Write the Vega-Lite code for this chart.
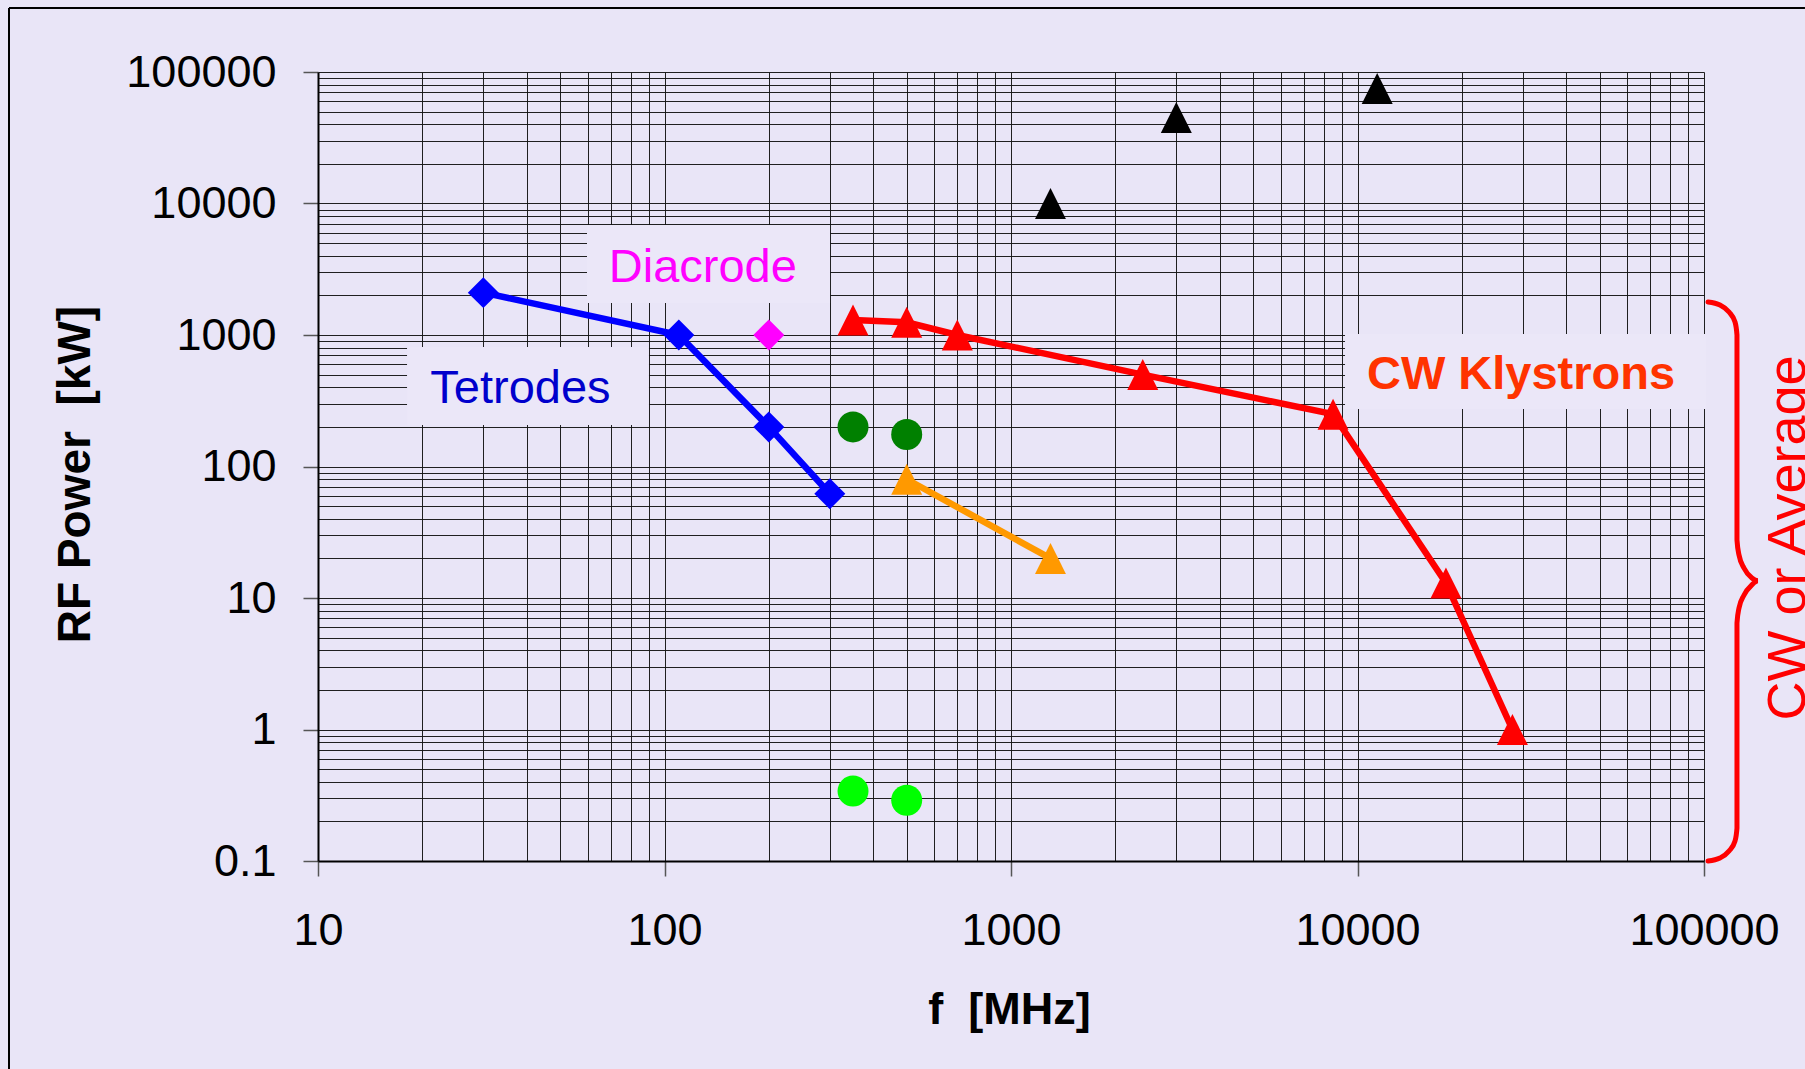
{
  "$schema": "https://vega.github.io/schema/vega-lite/v6.json",
  "width": 1386,
  "height": 789,
  "autosize": {"type": "none"},
  "padding": {"left": 318, "top": 72, "right": 101, "bottom": 208},
  "background": "#E9E5F7",
  "config": {
    "view": {"stroke": null},
    "axis": {
      "grid": true,
      "gridColor": "#141414",
      "gridWidth": 1,
      "gridOpacity": 0.95,
      "tickSize": 15,
      "tickColor": "#555555",
      "tickWidth": 1.5,
      "domainColor": "#000000",
      "domainWidth": 2,
      "labelFont": "Liberation Sans",
      "labelFontSize": 45,
      "labelColor": "#000000",
      "labelOverlap": false,
      "labelFlush": false,
      "titleFont": "Liberation Sans",
      "titleFontWeight": "bold",
      "titleColor": "#000000"
    }
  },
  "datasets": {
    "points": [
      {"series": "Tetrodes", "f": 30, "p": 2100},
      {"series": "Tetrodes", "f": 110, "p": 1000},
      {"series": "Tetrodes", "f": 200, "p": 200},
      {"series": "Tetrodes", "f": 300, "p": 62},
      {"series": "Diacrode", "f": 200, "p": 1000},
      {"series": "CW Klystrons", "f": 350, "p": 1300},
      {"series": "CW Klystrons", "f": 500, "p": 1250},
      {"series": "CW Klystrons", "f": 700, "p": 1000},
      {"series": "CW Klystrons", "f": 2400, "p": 500},
      {"series": "CW Klystrons", "f": 8500, "p": 250},
      {"series": "CW Klystrons", "f": 18000, "p": 13},
      {"series": "CW Klystrons", "f": 28000, "p": 1},
      {"series": "Black", "f": 1300, "p": 10000},
      {"series": "Black", "f": 3000, "p": 45000},
      {"series": "Black", "f": 11400, "p": 75000},
      {"series": "Orange", "f": 500, "p": 80},
      {"series": "Orange", "f": 1300, "p": 20},
      {"series": "Dark green", "f": 350, "p": 200},
      {"series": "Dark green", "f": 500, "p": 175},
      {"series": "Light green", "f": 350, "p": 0.34},
      {"series": "Light green", "f": 500, "p": 0.29}
    ],
    "labels": [
      {"label": "Tetrodes", "f": 38.4, "p": 305},
      {"label": "Diacrode", "f": 129, "p": 2530},
      {"label": "CW Klystrons", "f": 29640, "p": 388},
      {"label": "CW or Average", "f": 195600, "p": 28.6}
    ],
    "boxes": [
      {"label": "Tetrodes", "f": 18.07, "f2": 90.2, "p": 810, "p2": 207},
      {"label": "Diacrode", "f": 59.75, "f2": 300.4, "p": 6862, "p2": 1751},
      {"label": "CW Klystrons", "f": 9204, "f2": 101300, "p": 1018, "p2": 274}
    ],
    "brace": [
      {"o": 1, "f": 102700, "p": 1782},
      {"o": 2, "f": 111200, "p": 1691},
      {"o": 3, "f": 118100, "p": 1496},
      {"o": 4, "f": 122900, "p": 1256},
      {"o": 5, "f": 124500, "p": 1000},
      {"o": 6, "f": 124500, "p": 27.6},
      {"o": 7, "f": 126200, "p": 21.2},
      {"o": 8, "f": 130400, "p": 16.9},
      {"o": 9, "f": 137500, "p": 14.2},
      {"o": 10, "f": 143200, "p": 13.5},
      {"o": 11, "f": 137500, "p": 12.6},
      {"o": 12, "f": 130400, "p": 10.5},
      {"o": 13, "f": 126200, "p": 8.4},
      {"o": 14, "f": 124500, "p": 6.45},
      {"o": 15, "f": 124500, "p": 0.178},
      {"o": 16, "f": 122900, "p": 0.142},
      {"o": 17, "f": 118100, "p": 0.119},
      {"o": 18, "f": 111200, "p": 0.1054},
      {"o": 19, "f": 102700, "p": 0.1}
    ],
    "frame": [
      {"side": "top", "f": 1.283, "f2": 195600, "p": 306700},
      {"side": "left", "f": 1.283, "p": 306700, "p2": 0.00262}
    ]
  },
  "encoding": {
    "x": {
      "field": "f",
      "type": "quantitative",
      "scale": {"type": "log", "domain": [10, 100000], "nice": false},
      "axis": {
        "values": [10,20,30,40,50,60,70,80,90,100,200,300,400,500,600,700,800,900,1000,2000,3000,4000,5000,6000,7000,8000,9000,10000,20000,30000,40000,50000,60000,70000,80000,90000,100000],
        "format": "~g",
        "labelExpr": "abs(log(datum.value)/LN10 - round(log(datum.value)/LN10)) < 0.001 ? datum.label : ''",
        "tickOpacity": {"condition": {"test": "abs(log(datum.value)/LN10 - round(log(datum.value)/LN10)) < 0.001", "value": 1}, "value": 0},
        "labelPadding": 32,
        "title": "f\u00a0 [MHz]",
        "titleFontSize": 45,
        "titleX": 691,
        "titleY": 162,
        "titleAlign": "center",
        "titleBaseline": "alphabetic"
      }
    },
    "y": {
      "field": "p",
      "type": "quantitative",
      "scale": {"type": "log", "domain": [0.1, 100000], "nice": false},
      "axis": {
        "values": [0.1,0.2,0.3,0.4,0.5,0.6,0.7,0.8,0.9,1,2,3,4,5,6,7,8,9,10,20,30,40,50,60,70,80,90,100,200,300,400,500,600,700,800,900,1000,2000,3000,4000,5000,6000,7000,8000,9000,10000,20000,30000,40000,50000,60000,70000,80000,90000,100000],
        "format": "~g",
        "labelExpr": "abs(log(datum.value)/LN10 - round(log(datum.value)/LN10)) < 0.001 ? datum.label : ''",
        "tickOpacity": {"condition": {"test": "abs(log(datum.value)/LN10 - round(log(datum.value)/LN10)) < 0.001", "value": 1}, "value": 0},
        "labelPadding": 27,
        "title": "RF Power\u00a0 [kW]",
        "titleFontSize": 46,
        "titleAngle": 270,
        "titleX": -229,
        "titleY": 402,
        "titleAlign": "center",
        "titleBaseline": "alphabetic"
      }
    }
  },
  "layer": [
    {
      "data": {"name": "frame"},
      "transform": [{"filter": "datum.side === 'top'"}],
      "mark": {"type": "rule", "color": "#000000", "strokeWidth": 2},
      "encoding": {"x2": {"field": "f2"}}
    },
    {
      "data": {"name": "frame"},
      "transform": [{"filter": "datum.side === 'left'"}],
      "mark": {"type": "rule", "color": "#000000", "strokeWidth": 2},
      "encoding": {"y2": {"field": "p2"}}
    },
    {
      "data": {"name": "boxes"},
      "mark": {"type": "rect", "fill": "#EBE7F8"},
      "encoding": {"x2": {"field": "f2"}, "y2": {"field": "p2"}}
    },
    {
      "data": {"name": "points"},
      "transform": [{"filter": "datum.series === 'Tetrodes' || datum.series === 'CW Klystrons' || datum.series === 'Orange'"}],
      "mark": {"type": "line", "strokeWidth": 6.5},
      "encoding": {
        "color": {
          "field": "series", "type": "nominal", "legend": null,
          "scale": {"domain": ["Tetrodes", "Diacrode", "CW Klystrons", "Black", "Orange", "Dark green", "Light green"],
                    "range": ["#0000FF", "#FF00FF", "#FF0000", "#000000", "#FF9900", "#008000", "#00FF00"]}
        }
      }
    },
    {
      "data": {"name": "points"},
      "mark": {"type": "point", "filled": true, "opacity": 1, "size": 960, "strokeWidth": 0},
      "encoding": {
        "color": {
          "field": "series", "type": "nominal", "legend": null,
          "scale": {"domain": ["Tetrodes", "Diacrode", "CW Klystrons", "Black", "Orange", "Dark green", "Light green"],
                    "range": ["#0000FF", "#FF00FF", "#FF0000", "#000000", "#FF9900", "#008000", "#00FF00"]}
        },
        "shape": {
          "field": "series", "type": "nominal", "legend": null,
          "scale": {"domain": ["Tetrodes", "Diacrode", "CW Klystrons", "Black", "Orange", "Dark green", "Light green"],
                    "range": ["diamond", "diamond", "M0,-1L1,1L-1,1Z", "M0,-1L1,1L-1,1Z", "M0,-1L1,1L-1,1Z", "circle", "circle"]}
        }
      }
    },
    {
      "data": {"name": "brace"},
      "mark": {"type": "line", "color": "#FF0000", "strokeWidth": 5, "strokeCap": "round", "interpolate": "monotone"},
      "encoding": {"order": {"field": "o", "type": "quantitative"}}
    },
    {
      "data": {"name": "labels"},
      "transform": [{"filter": "datum.label === 'Tetrodes'"}],
      "mark": {"type": "text", "font": "Liberation Sans", "fontSize": 47, "color": "#0000CC", "align": "center", "baseline": "alphabetic"},
      "encoding": {"text": {"field": "label"}}
    },
    {
      "data": {"name": "labels"},
      "transform": [{"filter": "datum.label === 'Diacrode'"}],
      "mark": {"type": "text", "font": "Liberation Sans", "fontSize": 47, "color": "#FF00FF", "align": "center", "baseline": "alphabetic"},
      "encoding": {"text": {"field": "label"}}
    },
    {
      "data": {"name": "labels"},
      "transform": [{"filter": "datum.label === 'CW Klystrons'"}],
      "mark": {"type": "text", "font": "Liberation Sans", "fontSize": 47, "fontWeight": "bold", "color": "#FF3300", "align": "center", "baseline": "alphabetic"},
      "encoding": {"text": {"field": "label"}}
    },
    {
      "data": {"name": "labels"},
      "transform": [{"filter": "datum.label === 'CW or Average'"}],
      "mark": {"type": "text", "font": "Liberation Sans", "fontSize": 54, "color": "#FF0000", "align": "center", "baseline": "alphabetic", "angle": 270},
      "encoding": {"text": {"field": "label"}}
    }
  ]
}
